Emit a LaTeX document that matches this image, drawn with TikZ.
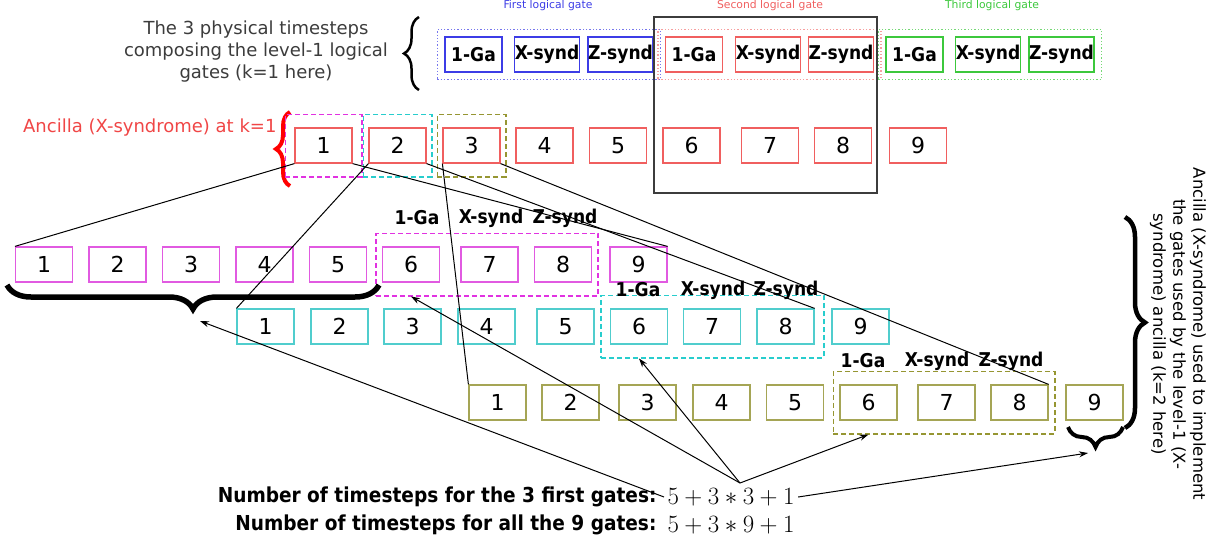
\documentclass[tikz,border=0pt]{standalone}
\usepackage[no-math]{fontspec}
\setmainfont{DejaVu Sans}
\newfontfamily\condbf{DejaVu Sans Condensed Bold}
\usetikzlibrary{arrows.meta, decorations.pathreplacing, calc, fit}
\definecolor{gateblue}{RGB}{60,60,230}
\definecolor{gatered}{RGB}{240,95,95}
\definecolor{gategreen}{RGB}{60,200,60}
\definecolor{ancred}{RGB}{240,70,70}
\definecolor{rowmag}{RGB}{225,90,225}
\definecolor{rowcyan}{RGB}{80,205,205}
\definecolor{rowolive}{RGB}{165,165,85}
\definecolor{dashmag}{RGB}{225,50,225}
\definecolor{dashcyan}{RGB}{40,205,205}
\definecolor{dasholive}{RGB}{150,150,50}
\definecolor{textgray}{RGB}{60,60,60}
\newcommand{\gatefont}{\condbf\fontsize{19}{21}\selectfont}
\newcommand{\numfont}{\fontsize{22}{24}\selectfont}

\begin{document}
\begin{tikzpicture}[x=1pt,y=-1pt,
  cell/.style={draw,line width=1.2pt,minimum width=57pt,minimum height=35pt,inner sep=0pt,font=\numfont},
  gatecell/.style={cell,font=\gatefont},
  tag/.style={font=\gatefont},
  group/.style={draw,dash pattern=on 5pt off 3pt,line width=1.8pt,inner sep=0pt},
  slot/.style={draw,dotted,line width=1.3pt,inner xsep=7pt,inner ysep=7pt},
  link/.style={line width=1pt},
  pointer/.style={line width=1pt,-{Stealth[length=9pt,width=6pt]}},
  curly/.style={decorate,decoration={brace,amplitude=#1}}]
  \useasboundingbox (0,0) rectangle (1226,544);
  % physical timesteps of the three logical gates
  \node[align=center,text=textgray,font=\fontsize{18}{22}\selectfont] (intro) at (256,52)
    {The 3 physical timesteps\\composing the level-1 logical\\gates (k=1 here)};
  \draw[curly=15,line width=2.5pt] (419,90) -- (419,17);
  \foreach \x/\t [count=\i] in {473.5/1-Ga,547/X-synd,620.5/Z-synd}
    \node[gatecell,draw=gateblue] (b\i) at (\x,54.5) {\t};
  \foreach \x/\t [count=\i] in {694/1-Ga,768/X-synd,841/Z-synd}
    \node[gatecell,draw=gatered] (r\i) at (\x,54.5) {\t};
  \foreach \x/\t [count=\i] in {914.5/1-Ga,988/X-synd,1061.5/Z-synd}
    \node[gatecell,draw=gategreen] (g\i) at (\x,54.5) {\t};
  \node[slot,draw=gateblue!70,fit=(b1)(b3)] (bgate) {};
  \node[slot,draw=gatered!60,fit=(r1)(r3)] (rgate) {};
  \node[slot,draw=gategreen!70,fit=(g1)(g3)] (ggate) {};
  \node[text=gateblue,font=\fontsize{10.8}{12}\selectfont] (btitle) at (548,6) {First logical gate};
  \node[text=gatered,font=\fontsize{10.8}{12}\selectfont] (rtitle) at (770,6) {Second logical gate};
  \node[text=gategreen,font=\fontsize{10.8}{12}\selectfont] (gtitle) at (992,6) {Third logical gate};
  % ancilla at k=1
  \node[anchor=east,text=ancred,font=\fontsize{18}{22}\selectfont] (anclabel) at (280,128) {Ancilla (X-syndrome) at k=1};
  \draw[curly=14,line width=4pt,red] (290,186) -- (290,112);
  \foreach \x [count=\i] in {323.5,397.5,471.5,544.5,618,691.5,770,843,918}
    \node[cell,draw=gatered] (a\i) at (\x,145.5) {\i};
  \node[group,draw=dashmag,inner xsep=9pt,inner ysep=13pt,fit=(a1)] (agrp1) {};
  \node[group,draw=dashcyan,inner xsep=5pt,inner ysep=13pt,fit=(a2)] (agrp2) {};
  \node[group,draw=dasholive,inner xsep=5pt,inner ysep=13pt,fit=(a3)] (agrp3) {};
  \draw[line width=1.2pt,textgray] (654,17) rectangle (877,193);
  % level-2 rows
  \foreach \x [count=\i] in {44,117.5,191,264.5,338,411,489.5,563,638.5}
    \node[cell,draw=rowmag] (p\i) at (\x,264.5) {\i};
  \foreach \x [count=\i] in {265.5,339.5,412.5,486.5,565.5,639,712,785.5,860.5}
    \node[cell,draw=rowcyan] (c\i) at (\x,326.5) {\i};
  \foreach \x [count=\i] in {497.5,570.5,647.5,721.5,795,868.5,946.5,1019.5,1094.5}
    \node[cell,draw=rowolive] (o\i) at (\x,402.5) {\i};
  \node[group,draw=dashmag,inner xsep=6pt,inner ysep=13pt,fit=(p6)(p8)] (pgrp) {};
  \node[group,draw=dashcyan,inner xsep=9pt,inner ysep=13pt,fit=(c6)(c8)] (cgrp) {};
  \node[group,draw=dasholive,inner xsep=6pt,inner ysep=13pt,fit=(o6)(o8)] (ogrp) {};
  \foreach \x/\t [count=\i] in {417/1-Ga,491/X-synd,565/Z-synd}
    \node[tag] (ptag\i) at (\x,218) {\t};
  \foreach \x/\t [count=\i] in {638/1-Ga,713/X-synd,786/Z-synd}
    \node[tag] (ctag\i) at (\x,290) {\t};
  \foreach \x/\t [count=\i] in {863/1-Ga,937/X-synd,1011/Z-synd}
    \node[tag] (otag\i) at (\x,361) {\t};
  \draw[link] (a1.south west) -- (p1.north west);
  \draw[link] (a1.south east) -- (p9.north east);
  \draw[link] (a2.south west) -- (c1.north west);
  \draw[link] (a2.south east) -- (c8.north east);
  \draw[link] (a3.south west) -- (o1.north west);
  \draw[link] (a3.south east) -- (o8.north east);
  % braces
  \draw[curly=24,line width=5.5pt] (379,285) -- (7,285);
  \draw[curly=20,line width=4pt] (1123,427) -- (1068,427);
  \draw[curly=20,line width=4.5pt] (1125,217) -- (1125,428);
  \coordinate (bigtip) at (200,321);
  \coordinate (smalltip) at (1088,453);
  \node[rotate=-90,align=center,font=\fontsize{16.5}{20}\selectfont] (k2label) at (1178,334)
    {Ancilla (X-syndrome) used to implement\\the gates used by the level-1 (X-\\syndrome) ancilla (k=2 here)};
  % counts
  \node[anchor=east,font=\condbf\fontsize{20.6}{23}\selectfont] (n3) at (660,497) {Number of timesteps for the 3 first gates:};
  \node[anchor=east,font=\condbf\fontsize{20.6}{23}\selectfont] (n9) at (660,525) {Number of timesteps for all the 9 gates:};
  \node[anchor=west,font=\fontsize{24}{26}\selectfont] (f3) at (664,497) {$5+3*3+1$};
  \node[anchor=west,font=\fontsize{24}{26}\selectfont] (f9) at (664,525) {$5+3*9+1$};
  \coordinate (hub) at (740,483);
  \draw[pointer] (hub) -- (pgrp.south -| p6);
  \draw[pointer] (hub) -- (cgrp.south -| c6);
  \draw[pointer] (hub) -- (ogrp.south -| o6);
  \draw[pointer] (f3.west) -- (bigtip);
  \draw[pointer] (f3.east) -- (smalltip);
\end{tikzpicture}
\end{document}
